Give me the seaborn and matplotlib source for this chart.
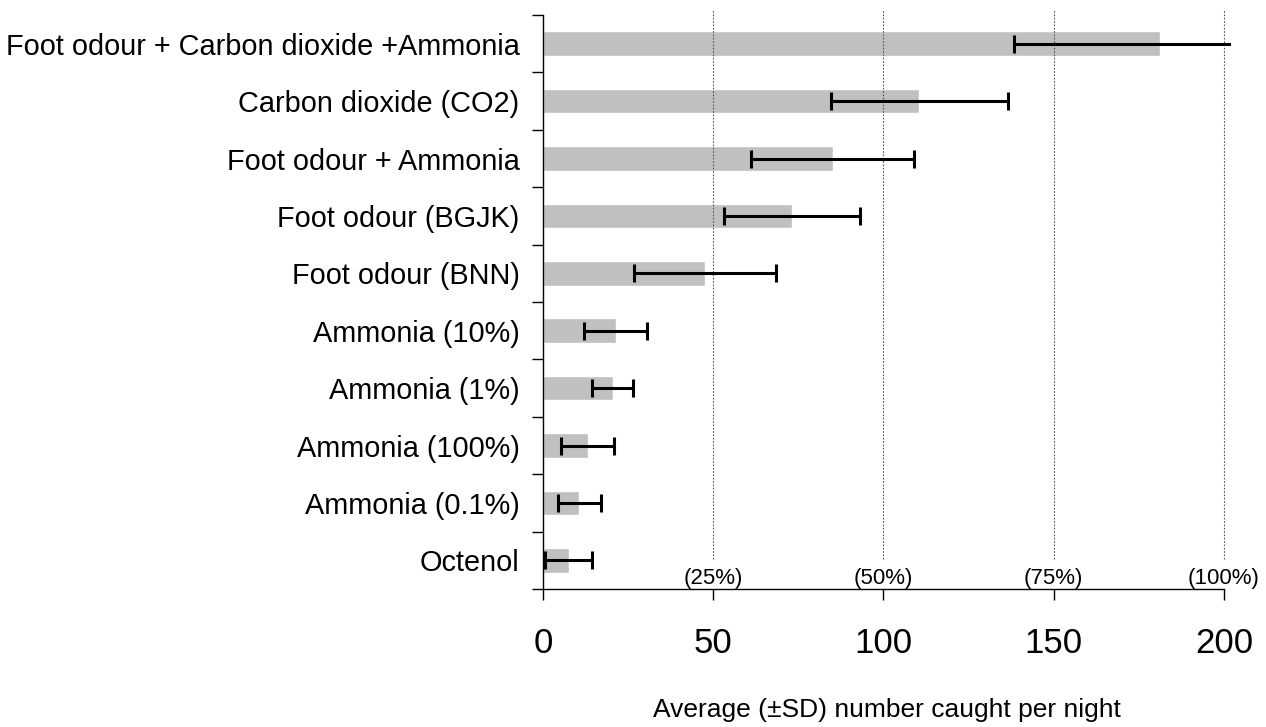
import numpy as np
import matplotlib
matplotlib.use("Agg")
import matplotlib.pyplot as plt
import seaborn as sns

# datos
tratamientos = ["Foot odour + Carbon dioxide +Ammonia", "Carbon dioxide (CO2)",
                "Foot odour + Ammonia", "Foot odour (BGJK)", "Foot odour (BNN)",
                "Ammonia (10%)", "Ammonia (1%)", "Ammonia (100%)",
                "Ammonia (0.1%)", "Octenol"]
promedio = [181.2, 110.5, 85.1, 73.1, 47.5, 21.3, 20.5, 13.1, 10.6, 7.6]
desv = [42.8, 26.0, 24.0, 20.0, 20.8, 9.3, 6.0, 7.8, 6.3, 6.9]

ticks_x = [0, 50, 100, 150, 200]
porcentajes = ["(25%)", "(50%)", "(75%)", "(100%)"]

sns.set_style("white")
plt.rcParams["font.family"] = ["Liberation Sans", "DejaVu Sans"]
plt.rcParams["text.color"] = "black"
plt.rcParams["xtick.color"] = "black"
plt.rcParams["ytick.color"] = "black"
plt.rcParams["axes.labelcolor"] = "black"

fig = plt.figure(figsize=(12.66, 7.27), dpi=100)
ax = fig.add_axes([0.4289, 0.1898, 0.5433, 0.7895])

sns.barplot(x=promedio, y=tratamientos, color="#C0C0C0", width=0.43,
            saturation=1, orient="h", ax=ax)

ax.errorbar(promedio, np.arange(len(tratamientos)), xerr=desv, fmt="none",
            ecolor="black", elinewidth=2.2, capsize=6.5, capthick=2.2, zorder=4)

ax.set_xlim(0, 202)
ax.set_ylim(len(tratamientos) - 0.5, -0.5)

# lineas de cuadricula punteadas (se cortan antes de las etiquetas de %)
ax.set_xticks(ticks_x)
ax.grid(False)
for v in ticks_x[1:]:
    ax.axvline(v, ymin=0.052, ymax=1.009, color="#555555", linestyle=(0, (1.5, 1.5)),
               linewidth=0.8, zorder=3, clip_on=False)

# etiquetas de porcentaje
for v, p in zip(ticks_x[1:], porcentajes):
    ax.text(v, 0.0, p, transform=ax.get_xaxis_transform(), ha="center", va="bottom",
            fontsize=16, zorder=5)

sns.despine(ax=ax)
ax.spines["bottom"].set_bounds(0, 200)
ax.spines["left"].set_color("black")
ax.spines["bottom"].set_color("black")
ax.spines["left"].set_linewidth(1)
ax.spines["bottom"].set_linewidth(1)

ax.set_xticklabels([str(t) for t in ticks_x], fontsize=25)
ax.tick_params(axis="x", direction="out", length=8, width=1, pad=19, bottom=True)

# marcas del eje y entre categorias
ax.set_yticks(np.arange(-0.5, len(tratamientos), 1.0), minor=True)
ax.tick_params(axis="y", which="minor", direction="out", length=8, width=1, left=True)
ax.tick_params(axis="y", which="major", length=0, pad=17, labelsize=20.8)

ax.set_ylabel("")
ax.set_xlabel("Average (±SD) number caught per night", fontsize=19, labelpad=28)

plt.savefig("out.png", dpi=100)
